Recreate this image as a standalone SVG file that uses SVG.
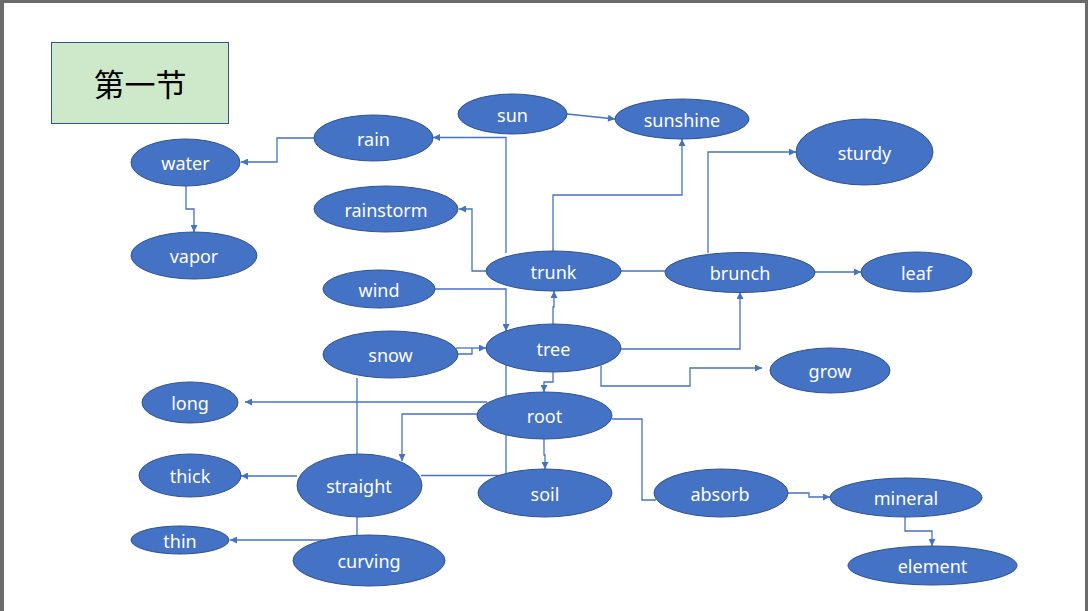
<svg xmlns="http://www.w3.org/2000/svg" width="1088" height="611" viewBox="0 0 1088 611">
<defs>
<marker id="arr" viewBox="0 0 10 10" refX="10" refY="5" markerWidth="8" markerHeight="7" markerUnits="userSpaceOnUse" orient="auto">
<path d="M0,0 L10,5 L0,10 Z" fill="#4472c4"/>
</marker>
</defs>
<style>
.n ellipse{fill:#4472c4;stroke:#2f528f;stroke-width:1}
.n text{fill:#ffffff;font-family:"Noto Sans","Open Sans","Liberation Sans",sans-serif;font-size:18px;text-anchor:middle}
.c path{fill:none;stroke:#4472c4;stroke-width:1.3}
.c .a{marker-end:url(#arr)}
</style>
<rect x="0" y="0" width="1088" height="611" fill="#ffffff"/>
<rect x="0" y="0" width="1088" height="3" fill="#6b6b6b"/>
<rect x="0" y="0" width="4" height="611" fill="#6b6b6b"/>
<rect x="1085" y="0" width="3" height="611" fill="#6b6b6b"/>
<g id="title">
<rect x="51.5" y="42.5" width="177" height="81" fill="#cde9c9" stroke="#2f5597" stroke-width="1"/>
<text x="140" y="96" font-family="'Noto Sans CJK SC','Noto Sans CJK JP',sans-serif" font-size="31" text-anchor="middle" fill="#000000">第一节</text>
</g>
<g class="c" id="connectors">
<path class="a" d="M314,138 H277 V162 H241"/>
<path class="a" d="M186,186 V209 H194 V232"/>
<path class="a" d="M567,114 L615,119"/>
<path class="a" d="M506,253 V137.5 H433"/>
<path class="a" d="M486,271 H472 V209 H459"/>
<path class="a" d="M553,251 V195 H682 V139"/>
<path d="M621,271 H665"/>
<path class="a" d="M708,253 V152 H796"/>
<path class="a" d="M815,272 H861"/>
<path class="a" d="M621,349 H740 V292"/>
<path class="a" d="M553,324 V307 H554 V291"/>
<path class="a" d="M435,289 H506 V331"/>
<path d="M457,354 H472 V348"/>
<path class="a" d="M456,348 H486"/>
<path d="M506,365 V475.5 H421"/>
<path class="a" d="M487,402 H245"/>
<path class="a" d="M477,414 H402 V461"/>
<path class="a" d="M553,372 V382 H544 V392"/>
<path class="a" d="M601,366 V386 H690 V368 H762"/>
<path class="a" d="M544,439 V455 H545 V469"/>
<path d="M612,419 H642 V500 H656"/>
<path class="a" d="M788,493 H809 V497 H830"/>
<path class="a" d="M905,517 V531 H932 V546"/>
<path class="a" d="M297,476 H241"/>
<path d="M357,378 V454"/>
<path d="M357,517 V536"/>
<path class="a" d="M324,540 H230"/>
</g>
<g class="n" id="water"><ellipse cx="185.5" cy="162.5" rx="54.5" ry="23.5"/><text x="185.5" y="170">water</text></g>
<g class="n" id="vapor"><ellipse cx="194" cy="255.5" rx="63" ry="23.5"/><text x="194" y="263">vapor</text></g>
<g class="n" id="rain"><ellipse cx="373.5" cy="138" rx="59.5" ry="23"/><text x="373.5" y="145.5">rain</text></g>
<g class="n" id="rainstorm"><ellipse cx="386" cy="209" rx="72" ry="23"/><text x="386" y="216.5">rainstorm</text></g>
<g class="n" id="wind"><ellipse cx="379" cy="289" rx="56" ry="19"/><text x="379" y="296.5">wind</text></g>
<g class="n" id="sun"><ellipse cx="512.5" cy="114" rx="54.5" ry="20"/><text x="512.5" y="121.5">sun</text></g>
<g class="n" id="sunshine"><ellipse cx="682" cy="119" rx="67" ry="20"/><text x="682" y="126.5">sunshine</text></g>
<g class="n" id="sturdy"><ellipse cx="864.5" cy="152" rx="68.5" ry="33"/><text x="864.5" y="159.5">sturdy</text></g>
<g class="n" id="leaf"><ellipse cx="916.5" cy="272" rx="55.5" ry="20"/><text x="916.5" y="279.5">leaf</text></g>
<g class="n" id="trunk"><ellipse cx="553.5" cy="271" rx="67.5" ry="20"/><text x="553.5" y="278.5">trunk</text></g>
<g class="n" id="brunch"><ellipse cx="740" cy="272.5" rx="75" ry="20"/><text x="740" y="280">brunch</text></g>
<g class="n" id="snow"><ellipse cx="390.5" cy="354.5" rx="67.5" ry="23.5"/><text x="390.5" y="362">snow</text></g>
<g class="n" id="tree"><ellipse cx="553.5" cy="348" rx="67.5" ry="24"/><text x="553.5" y="355.5">tree</text></g>
<g class="n" id="grow"><ellipse cx="830" cy="370.5" rx="60" ry="22.5"/><text x="830" y="378">grow</text></g>
<g class="n" id="long"><ellipse cx="190" cy="402.5" rx="48" ry="20.5"/><text x="190" y="410">long</text></g>
<g class="n" id="root"><ellipse cx="544.5" cy="415.5" rx="67.5" ry="23.5"/><text x="544.5" y="423">root</text></g>
<g class="n" id="thick"><ellipse cx="190" cy="475.5" rx="51" ry="21.5"/><text x="190" y="483">thick</text></g>
<g class="n" id="straight"><ellipse cx="359.5" cy="485.5" rx="62.5" ry="31.5"/><text x="359" y="493">straight</text></g>
<g class="n" id="soil"><ellipse cx="545" cy="493" rx="67" ry="24"/><text x="545" y="500.5">soil</text></g>
<g class="n" id="absorb"><ellipse cx="721" cy="493" rx="67" ry="24"/><text x="720" y="500.5">absorb</text></g>
<g class="n" id="mineral"><ellipse cx="906" cy="497.5" rx="76" ry="19.5"/><text x="906" y="505">mineral</text></g>
<g class="n" id="element"><ellipse cx="932.5" cy="565.5" rx="84.5" ry="19.5"/><text x="932.5" y="573">element</text></g>
<g class="n" id="thin"><ellipse cx="180" cy="540" rx="49" ry="14"/><text x="180" y="547.5">thin</text></g>
<g class="n" id="curving"><ellipse cx="369" cy="560.5" rx="76" ry="25.5"/><text x="369" y="568">curving</text></g>
</svg>
